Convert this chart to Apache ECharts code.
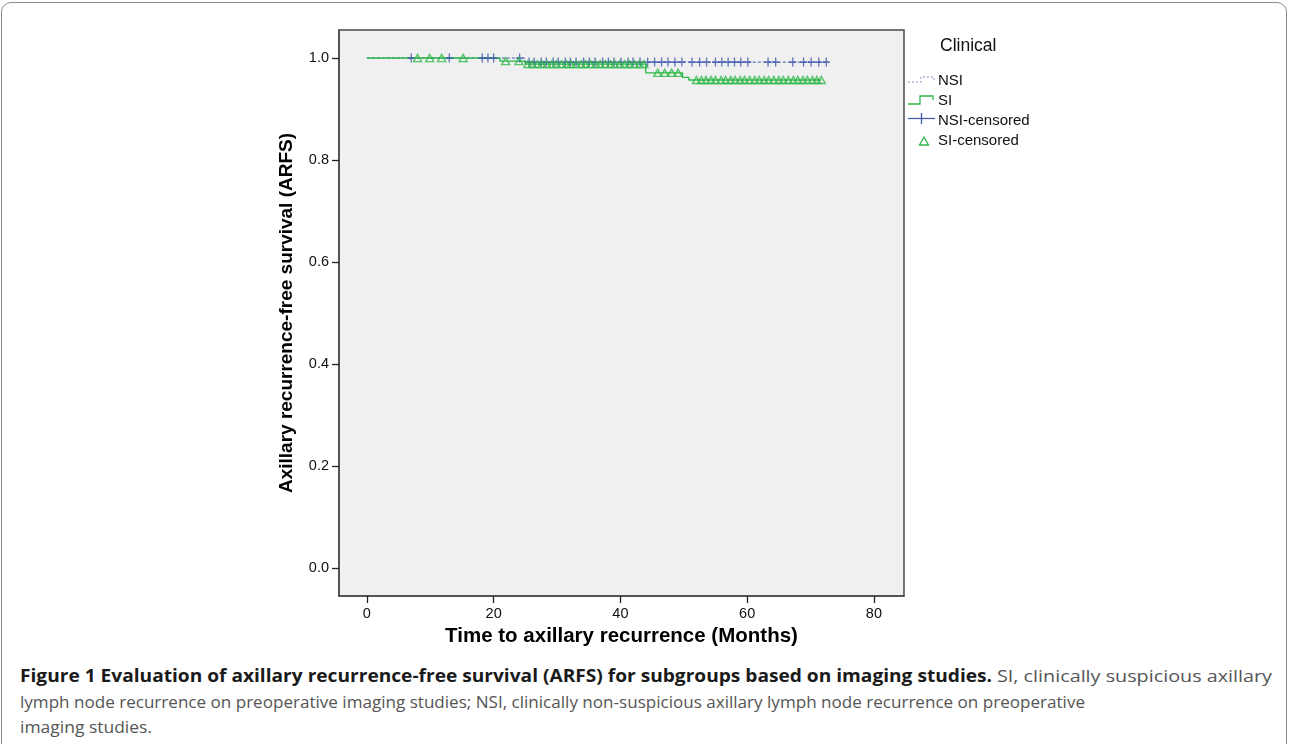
<!DOCTYPE html>
<html><head><meta charset="utf-8">
<script src="https://cdn.jsdelivr.net/npm/echarts@6/dist/echarts.min.js"></script>
<style>
html,body{margin:0;padding:0;background:#fff;width:1290px;height:744px;overflow:hidden;position:relative;}
#frame{position:absolute;left:1px;top:2px;width:1286px;height:800px;border:1.5px solid #8a8a8a;border-radius:10px;box-sizing:border-box;}
#chart{position:absolute;left:0;top:0;width:1290px;height:660px;}
.cap{position:absolute;white-space:nowrap;font-family:"Open Sans",sans-serif;font-size:17px;color:#555;transform-origin:0 50%;line-height:20px;}
.cap.b{color:#1a1a1a;font-weight:700;}
</style></head>
<body>
<div id="frame"></div>
<div id="chart"></div>
<div class="cap b" data-x="20" data-w="972" style="top:666px">Figure 1 Evaluation of axillary recurrence-free survival (ARFS) for subgroups based on imaging studies.</div>
<div class="cap" data-x="997" data-w="275" style="top:666px">SI, clinically suspicious axillary</div>
<div class="cap" data-x="20" data-w="1065" style="top:692px">lymph node recurrence on preoperative imaging studies; NSI, clinically non-suspicious axillary lymph node recurrence on preoperative</div>
<div class="cap" data-x="20" data-w="132" style="top:717px">imaging studies.</div>
<script>
// Tick labels
const xTicks = [0, 20, 40, 60, 80];
const yTicks = [0.0, 0.2, 0.4, 0.6, 0.8, 1.0];

// Kaplan-Meier step curves (time in months, survival)
const nsiCurveT = [0, 24.9, 72.5];
const nsiCurveS = [1.0, 0.992, 0.992];
const siCurveT = [0, 21.0, 25.0, 44.0, 49.8, 50.8, 71.7];
const siCurveS = [1.0, 0.994, 0.988, 0.971, 0.962, 0.957, 0.957];

// Censored observation times
const nsiCensored = [7.0, 13.0, 18.2, 19.1, 20.0, 24.1, 25.6, 26.4, 27.5, 28.3, 29.4, 30.2, 31.3, 32.1, 33.0, 34.2, 35.1, 36.0, 37.2, 38.1, 39.0, 40.1, 41.2, 42.0, 43.1, 44.3, 45.4, 46.5, 47.5, 48.6, 49.7, 51.3, 52.5, 53.6, 55.0, 56.0, 57.0, 58.0, 59.0, 60.1, 63.3, 64.5, 67.2, 68.9, 70.1, 71.3, 72.5];
const siCensored = [8.0, 9.9, 11.8, 15.2, 21.9, 24.0, 25.4, 26.1, 26.9, 27.6, 28.4, 29.2, 29.9, 30.7, 31.5, 32.2, 33.0, 33.8, 34.5, 35.3, 36.1, 36.8, 37.6, 38.4, 39.1, 39.9, 40.7, 41.4, 42.2, 43.0, 43.7, 45.9, 47.0, 48.1, 49.1, 52.0, 52.8, 53.5, 54.3, 55.0, 55.9, 56.6, 57.4, 58.1, 58.9, 59.6, 60.4, 61.2, 61.9, 62.7, 63.4, 64.2, 65.0, 65.7, 66.5, 67.3, 68.0, 68.8, 69.5, 70.3, 71.0, 71.7];

const BLUE = '#3e58ac', GREEN = '#2eb848';

function stepAt(T, S, t) {
  let v = S[0];
  for (let i = 0; i < T.length; i++) { if (T[i] <= t) v = S[i]; }
  return v;
}
const pairs = (T, S) => T.map((t, i) => [t, S[i]]);

const chart = echarts.init(document.getElementById('chart'));
const font = 'Liberation Sans, Arial, sans-serif';
chart.setOption({
  animation: false,
  grid: { left: 339, top: 30, width: 565, height: 566, show: true, backgroundColor: '#f0f0f0', borderColor: '#4a4a4a', borderWidth: 1.5 },
  xAxis: {
    type: 'value', min: -4.4, max: 84.75,
    name: 'Time to axillary recurrence (Months)', nameLocation: 'middle', nameGap: 30,
    nameTextStyle: { fontSize: 20.5, fontWeight: 'bold', color: '#000', fontFamily: font },
    axisLine: { show: true, onZero: false, lineStyle: { color: '#4a4a4a', width: 1.5 } },
    axisTick: { show: true, customValues: xTicks, length: 7, lineStyle: { color: '#222', width: 1.3 } },
    axisLabel: { customValues: xTicks, fontSize: 14.5, color: '#111', margin: 10, fontFamily: font },
    splitLine: { show: false }
  },
  yAxis: {
    type: 'value', min: -0.055, max: 1.055,
    name: 'Axillary recurrence-free survival (ARFS)', nameLocation: 'middle', nameGap: 43,
    nameTextStyle: { fontSize: 19, fontWeight: 'bold', color: '#000', fontFamily: font },
    axisLine: { show: true, onZero: false, lineStyle: { color: '#4a4a4a', width: 1.5 } },
    axisTick: { show: true, customValues: yTicks, length: 7, lineStyle: { color: '#222', width: 1.3 } },
    axisLabel: { customValues: yTicks, fontSize: 14.5, color: '#111', margin: 10, fontFamily: font, formatter: v => v.toFixed(1) },
    splitLine: { show: false }
  },
  series: [
    { name: 'NSI', type: 'line', step: 'end', symbol: 'none', z: 2,
      data: pairs(nsiCurveT, nsiCurveS), lineStyle: { color: BLUE, width: 1, type: [3, 2] } },
    { name: 'SI', type: 'line', step: 'end', symbol: 'none', z: 3,
      data: pairs(siCurveT, siCurveS), lineStyle: { color: GREEN, width: 1.4 } },
    { name: 'NSI-censored', type: 'scatter', z: 4,
      symbol: 'path://M0,5L10,5M5,0L5,10', symbolSize: [7, 9],
      itemStyle: { color: 'none', borderColor: BLUE, borderWidth: 1.5 },
      data: nsiCensored.map(t => [t, stepAt(nsiCurveT, nsiCurveS, t)]) },
    { name: 'SI-censored', type: 'scatter', z: 5,
      symbol: 'triangle', symbolSize: [8, 7],
      itemStyle: { color: 'none', borderColor: GREEN, borderWidth: 1.4 },
      data: siCensored.map(t => [t, stepAt(siCurveT, siCurveS, t)]) }
  ],
  graphic: [
    { type: 'text', left: 940, top: 37, style: { text: 'Clinical', fontSize: 17.5, fill: '#111', fontFamily: font } },
    { type: 'polyline', shape: { points: [[908, 82], [921, 82], [921, 77], [934, 77], [934, 80]] }, style: { stroke: '#7f8fcc', lineWidth: 1, lineDash: [2, 2], fill: null } },
    { type: 'text', left: 938, top: 73, style: { text: 'NSI', fontSize: 15, fill: '#111', fontFamily: font } },
    { type: 'polyline', shape: { points: [[908, 104], [920, 104], [920, 96], [933, 96], [933, 100]] }, style: { stroke: GREEN, lineWidth: 1.3, fill: null } },
    { type: 'text', left: 938, top: 93, style: { text: 'SI', fontSize: 15, fill: '#111', fontFamily: font } },
    { type: 'line', shape: { x1: 908, y1: 118.5, x2: 935, y2: 118.5 }, style: { stroke: BLUE, lineWidth: 1.2 } },
    { type: 'line', shape: { x1: 921.5, y1: 113, x2: 921.5, y2: 124 }, style: { stroke: BLUE, lineWidth: 1.3 } },
    { type: 'text', left: 938, top: 113, style: { text: 'NSI-censored', fontSize: 15, fill: '#111', fontFamily: font } },
    { type: 'polygon', shape: { points: [[924, 137], [928.5, 145], [919.5, 145]] }, style: { stroke: GREEN, lineWidth: 1.3, fill: null } },
    { type: 'text', left: 938, top: 133, style: { text: 'SI-censored', fontSize: 15, fill: '#111', fontFamily: font } }
  ]
});

// position and fit caption pieces to their widths
document.querySelectorAll('.cap').forEach(el => {
  el.style.left = el.dataset.x + 'px';
  const w = el.getBoundingClientRect().width;
  const target = +el.dataset.w;
  el.style.transform = 'scaleX(' + (target / w) + ')';
});
</script>
</body></html>
